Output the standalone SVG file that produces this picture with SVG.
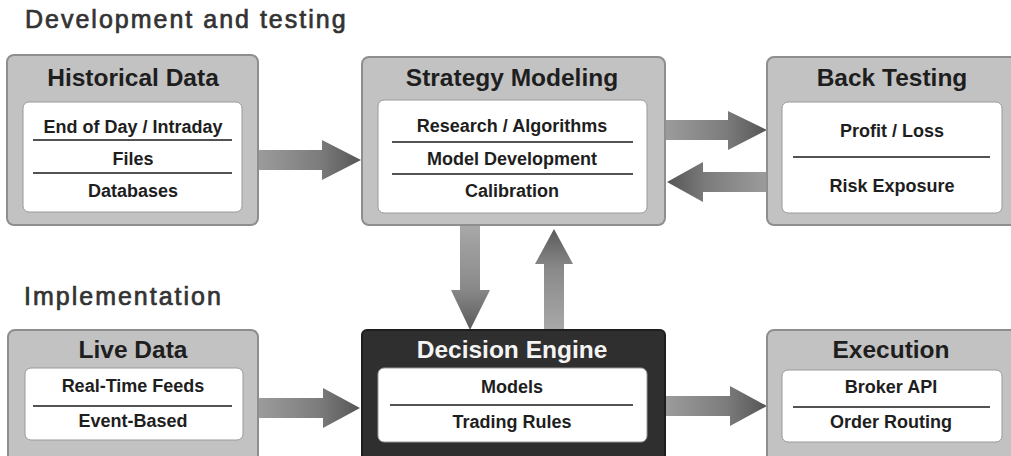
<svg xmlns="http://www.w3.org/2000/svg" width="1011" height="456" viewBox="0 0 1011 456">
  <defs>
    <style>
      .hdr { font-family: "Liberation Sans", Arial, sans-serif; font-size: 25px; fill: #333; stroke: #333; stroke-width: 0.7px; letter-spacing: 2px; }
      .title { font-family: "Liberation Sans", Arial, sans-serif; font-size: 24.5px; font-weight: bold; fill: #1e1e1e; text-anchor: middle; }
      .title-w { fill: #f4f4f4; }
      .row { font-family: "Liberation Sans", Arial, sans-serif; font-size: 18px; font-weight: bold; fill: #1e1e1e; text-anchor: middle; }
      .outer { fill: #c2c2c2; stroke: #8e8e8e; stroke-width: 2; }
      .outer-dark { fill: #2f2f2f; stroke: #1e1e1e; stroke-width: 2; }
      .inner { fill: #ffffff; stroke: #9a9a9a; stroke-width: 1; }
      .sep { stroke: #1a1a1a; stroke-width: 1.6; }
    </style>
    <linearGradient id="gR" x1="0" y1="0" x2="1" y2="0">
      <stop offset="0" stop-color="#9c9c9c"/>
      <stop offset="0.6" stop-color="#7c7c7c"/>
      <stop offset="1" stop-color="#555"/>
    </linearGradient>
    <linearGradient id="gL" x1="1" y1="0" x2="0" y2="0">
      <stop offset="0" stop-color="#9c9c9c"/>
      <stop offset="0.6" stop-color="#7c7c7c"/>
      <stop offset="1" stop-color="#555"/>
    </linearGradient>
    <linearGradient id="gD" x1="0" y1="0" x2="0" y2="1">
      <stop offset="0" stop-color="#a8a8a8"/>
      <stop offset="0.6" stop-color="#8a8a8a"/>
      <stop offset="1" stop-color="#5a5a5a"/>
    </linearGradient>
    <linearGradient id="gU" x1="0" y1="1" x2="0" y2="0">
      <stop offset="0" stop-color="#a8a8a8"/>
      <stop offset="0.6" stop-color="#8a8a8a"/>
      <stop offset="1" stop-color="#5a5a5a"/>
    </linearGradient>
  </defs>

  <rect width="1011" height="456" fill="#ffffff"/>

  <text class="hdr" x="25" y="28">Development and testing</text>
  <text class="hdr" x="24" y="305">Implementation</text>

  <g id="connectors">
    <polygon fill="url(#gR)" points="258,150 322,150 322,140 361,160 322,180 322,170 258,170"/>
    <polygon fill="url(#gR)" points="665,120 728,120 728,111 767,130 728,150 728,140 665,140"/>
    <polygon fill="url(#gL)" points="767,172 703,172 703,162 667,182 703,202 703,192 767,192"/>
    <polygon fill="url(#gD)" points="460,225 460,290 451,290 470,330 490,290 480,290 480,225"/>
    <polygon fill="url(#gU)" points="544,330 544,264 535,264 554,229 573,264 564,264 564,330"/>
    <polygon fill="url(#gR)" points="258,398 323,398 323,388 360,408 323,428 323,418 258,418"/>
    <polygon fill="url(#gR)" points="665,396 730,396 730,386 767,406 730,426 730,416 665,416"/>
  </g>

  <g id="historical-data">
    <rect class="outer" x="7" y="55" width="251" height="170" rx="7"/>
    <rect class="inner" x="23" y="102" width="219" height="110" rx="6"/>
    <text class="title" x="133" y="86">Historical Data</text>
    <text class="row" x="133" y="133">End of Day / Intraday</text>
    <line class="sep" x1="33" y1="140" x2="232" y2="140"/>
    <text class="row" x="133" y="165">Files</text>
    <line class="sep" x1="33" y1="173" x2="232" y2="173"/>
    <text class="row" x="133" y="197">Databases</text>
  </g>

  <g id="strategy-modeling">
    <rect class="outer" x="362" y="57" width="303" height="168" rx="7"/>
    <rect class="inner" x="378" y="100" width="269" height="113" rx="6"/>
    <text class="title" x="512" y="86">Strategy Modeling</text>
    <text class="row" x="512" y="132">Research / Algorithms</text>
    <line class="sep" x1="392" y1="142" x2="633" y2="142"/>
    <text class="row" x="512" y="165">Model Development</text>
    <line class="sep" x1="392" y1="174" x2="633" y2="174"/>
    <text class="row" x="512" y="197">Calibration</text>
  </g>

  <g id="back-testing">
    <rect class="outer" x="767" y="57" width="250" height="168" rx="7"/>
    <rect class="inner" x="782" y="102" width="220" height="111" rx="6"/>
    <text class="title" x="892" y="86">Back Testing</text>
    <text class="row" x="892" y="137">Profit / Loss</text>
    <line class="sep" x1="793" y1="157" x2="990" y2="157"/>
    <text class="row" x="892" y="192">Risk Exposure</text>
  </g>

  <g id="live-data">
    <rect class="outer" x="8" y="330" width="250" height="140" rx="7"/>
    <rect class="inner" x="25" y="368" width="218" height="72" rx="6"/>
    <text class="title" x="133" y="358">Live Data</text>
    <text class="row" x="133" y="392">Real-Time Feeds</text>
    <line class="sep" x1="33" y1="406" x2="232" y2="406"/>
    <text class="row" x="133" y="427">Event-Based</text>
  </g>

  <g id="decision-engine">
    <rect class="outer-dark" x="362" y="330" width="303" height="140" rx="5"/>
    <rect class="inner" x="378" y="368" width="269" height="74" rx="6"/>
    <text class="title title-w" x="512" y="358">Decision Engine</text>
    <text class="row" x="512" y="393">Models</text>
    <line class="sep" x1="390" y1="405" x2="633" y2="405"/>
    <text class="row" x="512" y="428">Trading Rules</text>
  </g>

  <g id="execution">
    <rect class="outer" x="767" y="330" width="250" height="140" rx="7"/>
    <rect class="inner" x="782" y="370" width="220" height="72" rx="6"/>
    <text class="title" x="891" y="358">Execution</text>
    <text class="row" x="891" y="393">Broker API</text>
    <line class="sep" x1="793" y1="407" x2="990" y2="407"/>
    <text class="row" x="891" y="428">Order Routing</text>
  </g>
</svg>
